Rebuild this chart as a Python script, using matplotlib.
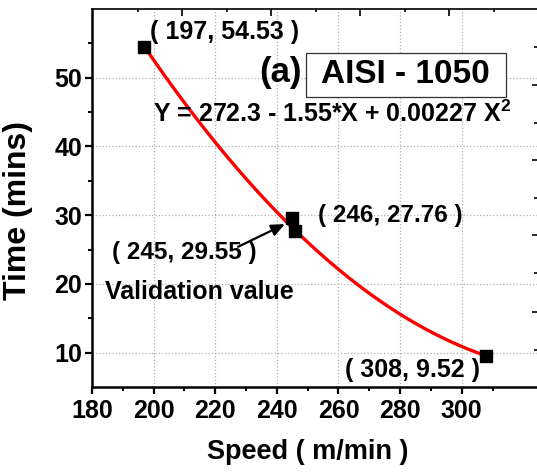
import numpy as np
import matplotlib
matplotlib.use("Agg")
import matplotlib.pyplot as plt

plt.rcParams['font.family'] = ['Liberation Sans', 'DejaVu Sans']
plt.rcParams['font.weight'] = 'bold'
plt.rcParams['mathtext.fontset'] = 'custom'
plt.rcParams['mathtext.rm'] = 'Liberation Sans:bold'
plt.rcParams['mathtext.bf'] = 'Liberation Sans:bold'

# ---- data ----
speed = [197, 246, 308]
time = [54.53, 27.76, 9.52]
valid_speed = [245]
valid_time = [29.55]
x_ticks = [180, 200, 220, 240, 260, 280, 300]
y_ticks = [10, 20, 30, 40, 50]
equation = "Y = 272.3 - 1.55*X + 0.00227 X$^{2}$"

fig = plt.figure(figsize=(5.37, 4.72), dpi=100)
ax = fig.add_axes([92/537, (472-387)/472, 448/537, (387-9)/472])

# fitted quadratic through the experimental points
coef = np.polyfit(speed, time, 2)
xs = np.linspace(min(speed), max(speed), 200)
ax.plot(xs, np.polyval(coef, xs), color='red', lw=2.4, zorder=3)

ax.plot(speed, time, 's', color='black', ms=9, zorder=4)
ax.plot(valid_speed, valid_time, 's', color='black', ms=9, zorder=4)

ax.set_xlim(180, 325.4)
ax.set_ylim(5, 60)
ax.set_xticks(x_ticks)
ax.set_xticks([190, 210, 230, 250, 270, 290, 310], minor=True)
ax.set_yticks(y_ticks)
ax.set_yticks([15, 25, 35, 45, 55], minor=True)
ax.grid(True, which='major', color='#b0b0b0', ls=':', lw=0.9)

for s in ['left', 'bottom']:
    ax.spines[s].set_linewidth(1.8)
for s in ['top', 'right']:
    ax.spines[s].set_linewidth(1.2)
ax.tick_params(which='major', direction='out', length=5, width=1.6, labelsize=18, pad=2)
ax.tick_params(which='minor', direction='out', length=3, width=1.4)
ax.tick_params(axis='x', which='major', pad=4)

ax.set_xlabel("Speed ( m/min )", fontsize=19.5, fontweight='bold')
ax.xaxis.set_label_coords(0.481, -0.138)
ax.set_ylabel("Time (mins)", fontsize=23, fontweight='bold')
ax.yaxis.set_label_coords(-0.132, 0.466)

# top and right ticks (from the adjoining axis layer)
axt = ax.twiny()
axt.set_xlim(92, 540)
axt.set_xticks([182, 271, 360, 449, 538])
axt.set_xticks([138, 227, 316, 405, 494], minor=True)
axt.tick_params(axis='x', which='major', direction='in', length=5, width=1.2, labeltop=False)
axt.tick_params(axis='x', which='minor', direction='in', length=2.5, width=1.2)
axt.set_xticklabels([])
axr = ax.twinx()
axr.set_ylim(387, 9)
axr.set_yticks([85, 160, 235, 312])
axr.set_yticks([47, 123, 198, 273, 350], minor=True)
axr.tick_params(axis='y', which='major', direction='in', length=6, width=1.2)
axr.tick_params(axis='y', which='minor', direction='in', length=4, width=1.2)
axr.set_yticklabels([])
for a in (axt, axr):
    for s in a.spines.values():
        s.set_visible(False)

fs = 18
ax.text(198.8, 56.6, "( 197, 54.53 )", fontsize=fs, ha='left', va='center', fontweight='bold', zorder=6)
ax.text(234.3, 50.8, "(a)", fontsize=25, ha='left', va='center', fontweight='bold', zorder=6)
ax.text(281.9, 50.4, " AISI - 1050 ", fontsize=24, ha='center', va='center', fontweight='bold', zorder=6,
        bbox=dict(boxstyle='square,pad=0.2', fc='white', ec='#333333', lw=0.9))
ax.text(199.8, 44.7, equation, fontsize=18, ha='left', va='center', fontweight='bold', zorder=6)
ax.text(253.4, 30.0, "( 246, 27.76 )", fontsize=17.5, ha='left', va='center', fontweight='bold', zorder=6)
ax.text(186.5, 24.5, "( 245, 29.55 )", fontsize=17.5, ha='left', va='center', fontweight='bold', zorder=6)
ax.text(184.2, 18.8, "Validation value", fontsize=18, ha='left', va='center', fontweight='bold', zorder=6)
ax.text(305.9, 7.5, "( 308, 9.52 )", fontsize=fs, ha='right', va='center', fontweight='bold', zorder=6)
ax.annotate("", xy=(242.6, 28.7), xytext=(227.4, 25.4),
            arrowprops=dict(arrowstyle='-|>,head_length=0.8,head_width=0.35', color='black', lw=1.6,
                            shrinkA=0, shrinkB=0), zorder=6)

fig.savefig("out.png", dpi=100)
